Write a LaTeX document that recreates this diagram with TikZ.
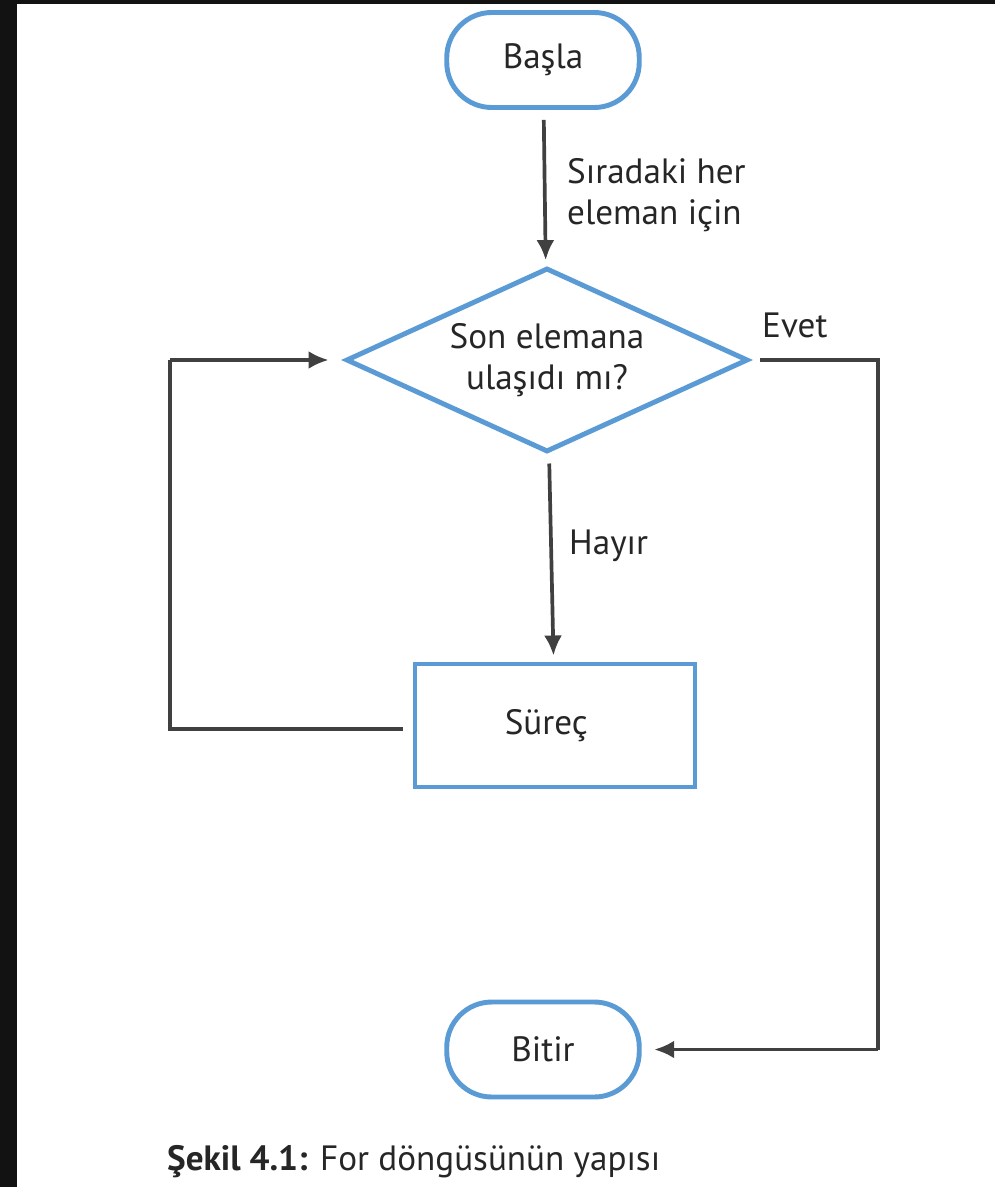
\documentclass[tikz,border=0pt]{standalone}
\usepackage{fontspec}
\setmainfont{PT Sans}
\usepackage{xcolor}
\usetikzlibrary{shapes, positioning, arrows.meta}
\definecolor{akisMavi}{RGB}{91,155,213}
\definecolor{zemin}{RGB}{18,18,18}

\begin{document}
\begin{tikzpicture}[
		font=\fontsize{20}{23}\selectfont,
		text=black!85,
		uc/.style={draw=akisMavi, line width=2.8pt, rounded corners=0.9cm, minimum width=3.85cm, minimum height=1.9cm, inner sep=0},
		karar/.style={draw=akisMavi, line width=2.8pt, diamond, aspect=2.2, minimum width=8.04cm, minimum height=3.68cm, inner sep=0, align=center},
		islem/.style={draw=akisMavi, line width=2.8pt, rectangle, minimum width=5.6cm, minimum height=2.46cm, inner sep=0},
		ok/.style={draw=black!75, line width=2.1pt, -{Latex[length=0.4cm,width=0.36cm]}, shorten <=0.2cm, shorten >=0.12cm},
		cizgi/.style={draw=black!75, line width=2.1pt, shorten <=0.2cm}
	]
				% zemin
				\fill [zemin] (0,0) rectangle (19.9,-23.74);
				\fill [white] (0.34,-0.08) rectangle (19.9,-23.74);
				
				\node [uc] (basla) at (10.86,-1.20) {Başla};
				\node [karar] (kosul) at (10.94,-7.20) {Son elemana\\ulaşıdı mı?};
				\node [islem] (surec) at (11.10,-14.51) {\hspace{-0.35cm}Süreç};
				\node [uc] (bitir) at (10.86,-20.99) {Bitir};
				
				\coordinate (solAlt) at (3.40,-14.58);
				\coordinate (solUst) at (3.40,-7.20);
				\coordinate (sagUst) at (17.56,-7.20);
				\coordinate (sagAlt) at (17.56,-20.99);
				
				\draw [ok] (basla) -- (kosul);
				\draw [ok] (kosul) -- (surec);
				\draw [ok, shorten <=0cm, shorten >=0.3cm] (solUst) -- (kosul.west);
				\draw [cizgi] ([yshift=-0.07cm]surec.west) -- (solAlt) -- (solUst);
				\draw [cizgi] (kosul.east) -- (sagUst) -- (sagAlt);
				\draw [ok, shorten <=0cm, shorten >=0.25cm] (sagAlt) -- (bitir.east);
				
				\node [anchor=west, align=left] (etiket1) at (11.22,-3.90) {Sıradaki her\\eleman için};
				\node [anchor=west] (etiket2) at (11.26,-10.92) {Hayır};
				\node [anchor=west] (etiket3) at (15.12,-6.50) {Evet};
				\node [anchor=west] (baslik) at (3.22,-23.24) {\textbf{Şekil 4.1:} For döngüsünün yapısı};
\end{tikzpicture}
\end{document}
